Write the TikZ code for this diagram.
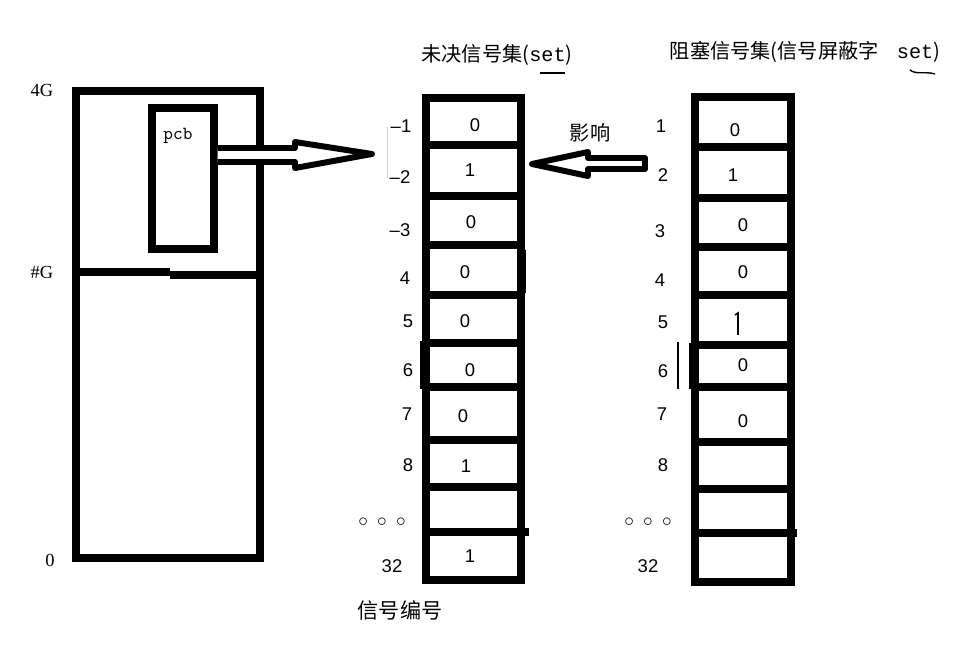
\documentclass[tikz,border=0pt]{standalone}
\usepackage{fontspec}
\setmainfont{Liberation Serif}
\newfontfamily\cjk{Noto Sans CJK SC}
\newfontfamily\digits{Liberation Sans}
\newfontfamily\setfont{Liberation Mono}
\usetikzlibrary{fit}

\tikzset{
    thickline/.style={line width=4pt},
    colbox/.style={draw, thickline, inner sep=0pt},
    cellval/.style={font=\digits\fontsize{10.5}{11}\selectfont},
    signo/.style={font=\digits\fontsize{10.5}{11}\selectfont},
    memlabel/.style={font=\fontsize{10.5}{11}\selectfont},
    title/.style={font=\cjk\fontsize{11.5}{12}\selectfont},
    hollow/.style={line width=3.4pt, fill=white, line join=round},
}

\begin{document}
\begin{tikzpicture}[x=0.02cm, y=-0.02cm]
    \useasboundingbox (0,0) rectangle (967,648);

    % Process memory
    \node[colbox, fit={(76,91) (260,558)}] (mem) {};
    \draw[thickline] (mem.west |- 0,272) -- (170,272);
    \draw[thickline] (170,275) -- (mem.east |- 0,275);
    \node[colbox, fit={(152,108) (214,249)}] (pcb) {};
    \node[font=\ttfamily\fontsize{10.5}{10}\selectfont] (pcblabel) at (178,136) {pcb};
    \node[memlabel] (top) at (42,90) {4G};
    \node[memlabel] (mid) at (42,272) {\#G};
    \node[memlabel] (bottom) at (50,560) {0};

    % Pending set
    \node[title] (pendtitle) at (497,55) {未决信号集({\setfont set})};
    \draw[line width=0.8pt] (540,73) -- (565,73);
    \node[colbox, fit={(426,98) (521,580)}] (pend) {};
    \foreach \y in {145,196,245,295,343,387,440,487}
        \draw[thickline] (pend.west |- 0,\y) -- (pend.east |- 0,\y);
    \draw[thickline] (pend.west |- 0,532) -- (529,532);
    \fill (420,341) rectangle (426,389);
    \fill (519,250) rectangle (526,293);
    \foreach \x/\y/\v [count=\i] in {475/125/0, 470/170/1, 471/222/0, 465/272/0, 465/321/0,
                                     470/370/0, 463/416/0, 466/466/1, 470/510/{}, 470/556/1}
        \node[cellval] (pend\i) at (\x,\y) {\v};
    \foreach \x/\y/\t [count=\i] in {401/126/{–1}, 400/177/{–2}, 400/230/{–3}, 405/278/4,
                                     408/321/5, 408/370/6, 407/414/7, 408/465/8}
        \node[signo] (pendno\i) at (\x,\y) {\t};
    \draw[gray!35, line width=0.5pt] (387,127) -- (387,178);
    \node[signo] (penddots) at (382,522) {$\circ$\,\,\,$\circ$\,\,\,$\circ$};
    \node[signo] (pendlast) at (392,566) {32};
    \node[font=\cjk\fontsize{12}{12}\selectfont] (signame) at (400,610) {信号编号};

    % Blocked set
    \node[title] (blktitle) at (805,52) {阻塞信号集(信号屏蔽字\hspace{0.9em}{\setfont set})};
    \draw[line width=0.8pt] (910,70) .. controls (916,75) and (925,71) .. (935,74);
    \node[colbox, fit={(695,97) (791,582)}] (blk) {};
    \foreach \y in {147,198,247,295,345,387,442,489}
        \draw[thickline] (blk.west |- 0,\y) -- (blk.east |- 0,\y);
    \draw[thickline] (blk.west |- 0,533) -- (797,533);
    \fill (689,343) rectangle (695,389);
    \fill (789,251) rectangle (795,293);
    \foreach \x/\y/\v [count=\i] in {735/130/0, 733/175/1, 743/225/0, 743/272/0,
                                     743/365/0, 743/421/0}
        \node[cellval] (blk\i) at (\x,\y) {\v};
    \draw[line width=0.9pt] (735,315) -- (738,313) -- (738,335);
    \foreach \x/\y/\t [count=\i] in {661/126/1, 663/175/2, 660/231/3, 660/280/4,
                                     663/322/5, 663/371/6, 662/414/7, 663/465/8}
        \node[signo] (blkno\i) at (\x,\y) {\t};
    \draw[line width=0.8pt] (678,342) -- (678,389);
    \node[signo] (blkdots) at (648,522) {$\circ$\,\,\,$\circ$\,\,\,$\circ$};
    \node[signo] (blklast) at (648,566) {32};

    % Arrows
    \draw[hollow] (pcb.east |- 0,148) -- (295,148) -- (295,142) -- (372,154)
        -- (295,168) -- (295,162) -- (pcb.east |- 0,162);
    \draw[hollow] (645,158) -- (588,158) -- (588,152) -- (532,164)
        -- (588,176) -- (588,169) -- (645,169) -- cycle;
    \node[font=\cjk\fontsize{11.5}{12}\selectfont] (effect) at (590,133) {影响};
\end{tikzpicture}
\end{document}
